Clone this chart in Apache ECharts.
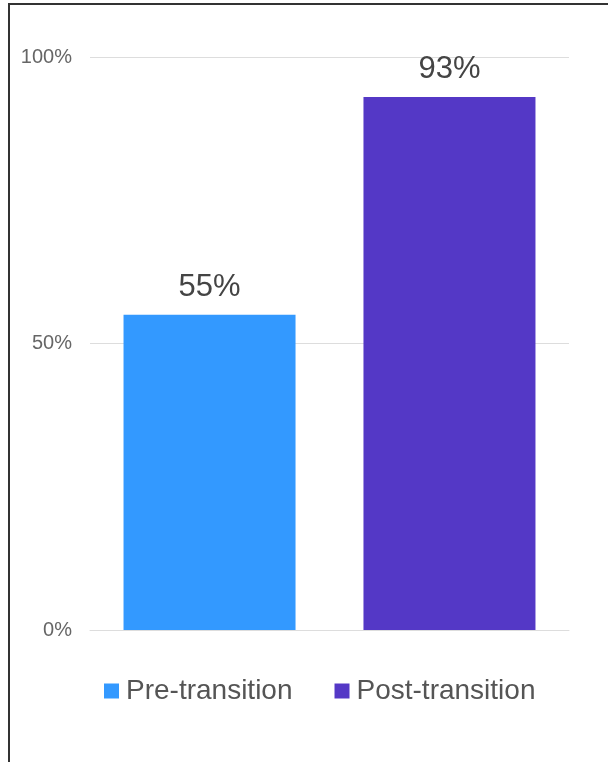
<!DOCTYPE html>
<html>
<head>
<meta charset="utf-8">
<script src="https://cdn.jsdelivr.net/npm/echarts@6/dist/echarts.min.js"></script>
<style>
html,body{margin:0;padding:0;background:#fff;}
#chart{width:608px;height:762px;}
</style>
</head>
<body>
<div id="chart"></div>
<script>
const categories = [''];
const seriesNames = ['Pre-transition', 'Post-transition'];
const preValues = [55];
const postValues = [93];
const yTicks = [0, 50, 100];
const colors = ['#3399ff', '#5438c6'];

const chart = echarts.init(document.getElementById('chart'));
const labelStyle = {
  show: true, position: 'top', distance: 12,
  formatter: '{c}%', fontSize: 31, color: '#444',
  fontFamily: 'Liberation Sans, Arial, sans-serif'
};
chart.setOption({
  animation: false,
  graphic: [{
    type: 'rect', silent: true,
    shape: { x: 9, y: 4, width: 800, height: 900 },
    style: { fill: 'none', stroke: '#333', lineWidth: 2 }
  }],
  grid: { left: 90, right: 39, top: 57, bottom: 132, containLabel: false },
  legend: {
    left: 99, top: 672,
    icon: 'rect', itemWidth: 15, itemHeight: 15, itemGap: 42,
    data: seriesNames,
    textStyle: { fontSize: 28, color: '#555', fontFamily: 'Liberation Sans, Arial, sans-serif', padding: [0, 0, 0, 2] }
  },
  xAxis: {
    type: 'category', data: categories,
    axisLine: { show: true, lineStyle: { color: '#ddd' } },
    axisTick: { show: false }, axisLabel: { show: false }
  },
  yAxis: {
    type: 'value', min: yTicks[0], max: yTicks[yTicks.length - 1], interval: 50,
    axisLine: { show: false }, axisTick: { show: false },
    splitLine: { lineStyle: { color: '#ddd', width: 1 } },
    axisLabel: { formatter: '{value}%', fontSize: 20, color: '#666', margin: 18,
      fontFamily: 'Liberation Sans, Arial, sans-serif' }
  },
  series: [
    { name: seriesNames[0], type: 'bar', data: preValues, barWidth: 172, barGap: '39.5%',
      itemStyle: { color: colors[0] }, label: labelStyle },
    { name: seriesNames[1], type: 'bar', data: postValues, barWidth: 172,
      itemStyle: { color: colors[1] }, label: labelStyle }
  ]
});
</script>
</body>
</html>
